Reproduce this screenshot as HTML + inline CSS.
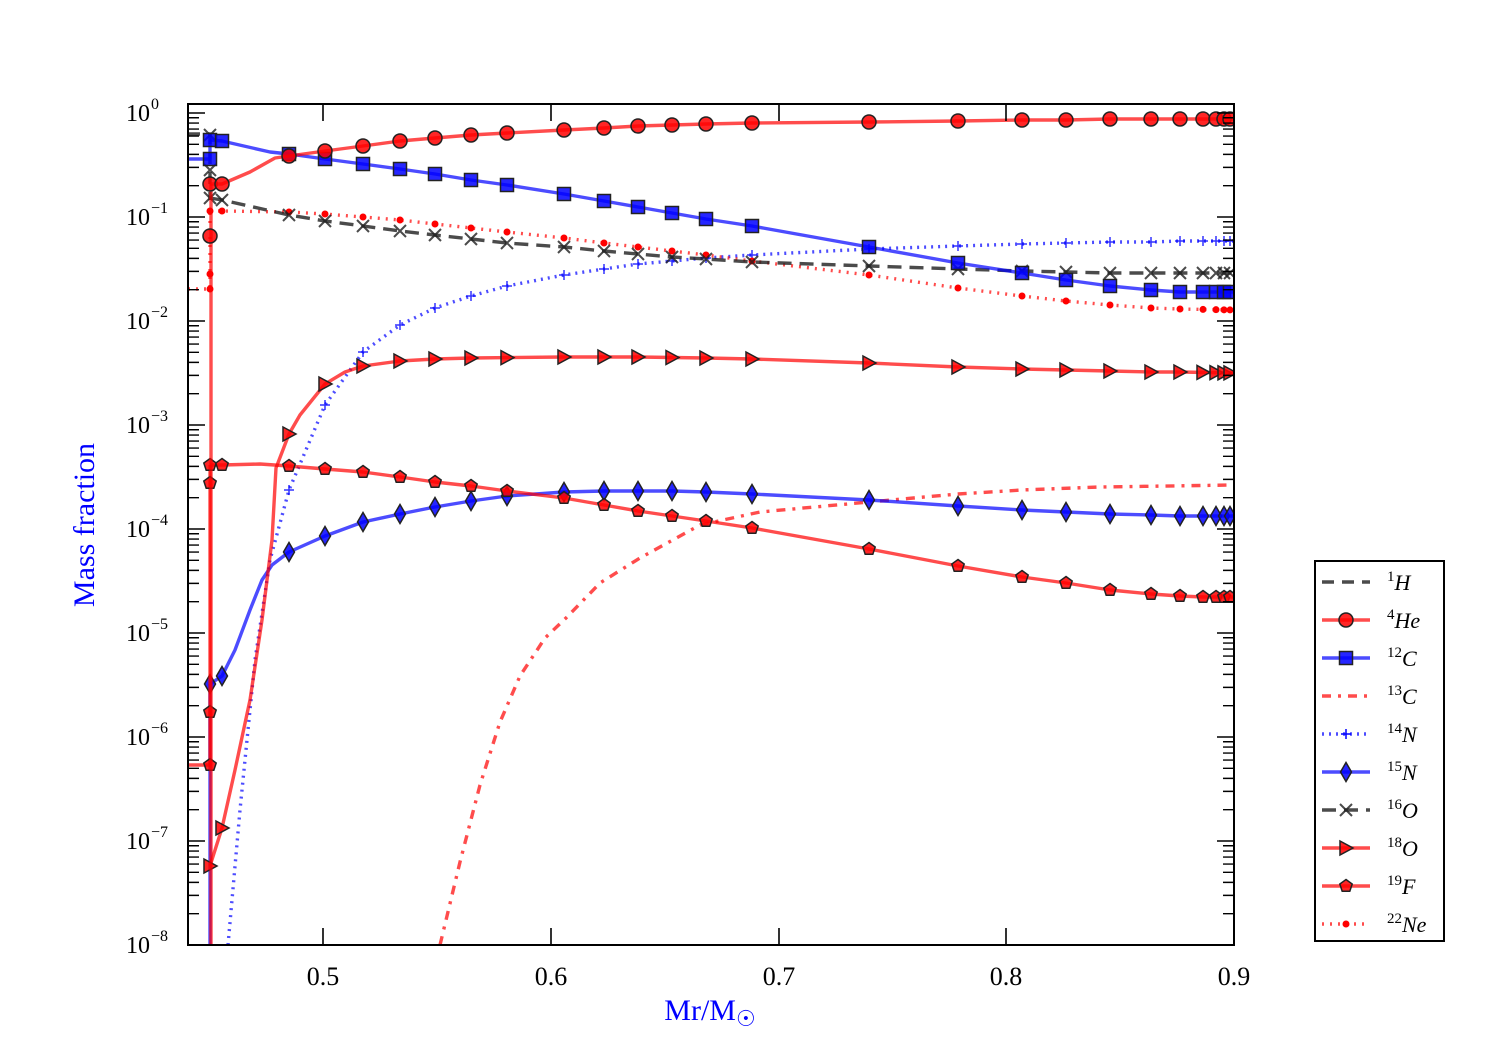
<!DOCTYPE html>
<html><head><meta charset="utf-8"><style>
html,body{margin:0;padding:0;background:#fff;}
svg{display:block;font-family:"Liberation Serif",serif;}
</style></head><body>
<svg id="s" width="1500" height="1050" xmlns="http://www.w3.org/2000/svg"></svg>
<script>
const S=document.getElementById('s');let h='';
const R='rgba(255,0,0,0.7)',B='rgba(0,0,255,0.7)',K='rgba(30,30,30,0.8)';
function pl(pts,col,dash,w){h+=`<polyline points="${pts.map(p=>p.join(',')).join(' ')}" fill="none" stroke="${col}" stroke-width="${w||3.4}" ${dash?`stroke-dasharray="${dash}"`:''} stroke-linejoin="round"/>`;}
function mk(t,x,y,f){
 if(t=='o')h+=`<circle cx="${x}" cy="${y}" r="7" fill="${f}" stroke="#222" stroke-width="1.5"/>`;
 if(t=='s')h+=`<rect x="${x-6.5}" y="${y-6.5}" width="13" height="13" fill="${f}" stroke="#222" stroke-width="1.5"/>`;
 if(t=='d')h+=`<polygon points="${x},${y-9.5} ${x+5.5},${y} ${x},${y+9.5} ${x-5.5},${y}" fill="${f}" stroke="#222" stroke-width="1.5"/>`;
 if(t=='>')h+=`<polygon points="${x-6},${y-7} ${x+7},${y} ${x-6},${y+7}" fill="${f}" stroke="#222" stroke-width="1.5"/>`;
 if(t=='p')h+=`<polygon points="${x},${y-6.5} ${x+6.2},${y-2} ${x+3.8},${y+5.3} ${x-3.8},${y+5.3} ${x-6.2},${y-2}" fill="${f}" stroke="#222" stroke-width="1.5"/>`;
 if(t=='x')h+=`<path d="M${x-6} ${y-6}L${x+6} ${y+6}M${x-6} ${y+6}L${x+6} ${y-6}" stroke="rgba(30,30,30,0.8)" stroke-width="2"/>`;
 if(t=='+')h+=`<path d="M${x-5} ${y}H${x+5}M${x} ${y-5}V${y+5}" stroke="${f}" stroke-width="1.5"/>`;
 if(t=='.')h+=`<circle cx="${x}" cy="${y}" r="3.5" fill="${f}"/>`;
}
const MX=[210,222,289,325,363,400,435,471,507,564,604,638,672,706,752,869,958,1022,1066,1110,1151,1180,1203,1216,1224,1230];
function ser(pts,col,dash,m,f,mx){pl(pts,col,dash);const xs=mx||MX;
 for(const x of xs){let y=null;for(let i=0;i<pts.length-1;i++){const a=pts[i],b=pts[i+1];if(x>=a[0]&&x<=b[0]&&b[0]>a[0]){y=a[1]+(b[1]-a[1])*(x-a[0])/(b[0]-a[0]);}}if(y!==null&&y<=945)mk(m,x,y,f);}}
h+='<defs><clipPath id="c"><rect x="188" y="104" width="1046" height="841"/></clipPath></defs><g clip-path="url(#c)">';
pl([[440,945],[460,862],[480,785],[500,722],[520,676],[545,638],[566,618],[600,583],[640,558],[700,525],[760,512],[869,502],[958,494],[1022,490],[1100,487],[1234,485]],R,'9,7,3,7');
ser([[228,945],[240,810],[255,660],[270,560],[289,490],[325,405],[363,352],[400,325],[435,308],[471,296],[507,286],[564,275],[604,269],[638,264],[672,261],[706,258],[752,255],[869,249],[958,246],[1022,244],[1066,243],[1110,242],[1151,242],[1180,241],[1234,241]],B,'2,5','+','rgba(0,0,255,0.8)');
pl([[188,289],[210,289],[210,211]],R,'2,6');
ser([[210,211],[222,211],[289,212],[325,214],[363,217],[400,220],[435,224],[471,228],[507,232],[564,238],[604,243],[638,247],[672,251],[706,255],[752,261],[869,275],[958,288],[1022,296],[1066,301],[1110,305],[1151,308],[1180,309],[1234,310]],R,'2,6','.','#f00');
mk('.',210,289,'#f00');mk('.',210,274,'#f00');
ser([[210,198],[222,200],[289,215],[325,221],[363,226],[400,231],[435,235],[471,239],[507,243],[564,247],[604,251],[638,254],[672,257],[706,259],[752,262],[869,266],[958,269],[1022,271],[1066,272],[1110,273],[1151,273],[1234,273]],K,'14,8','x');
mk('x',210,170);mk('x',210,135);
pl([[188,134],[210,134],[210,200]],K,'12,8');
pl([[210,945],[210,684]],B);
ser([[210,684],[222,676],[235,650],[250,610],[262,580],[272,565],[289,552],[325,536],[363,522],[400,514],[435,507],[471,501],[507,496],[564,492],[604,491],[638,491],[672,491],[706,492],[752,494],[869,500],[958,506],[1022,510],[1066,512],[1110,514],[1151,515],[1180,516],[1234,516]],B,null,'d','rgba(0,0,255,0.85)');
ser([[210,866],[222,828],[235,770],[250,700],[262,620],[272,540],[276,468],[289,434],[300,415],[325,384],[345,372],[363,366],[400,361],[435,359],[471,358],[564,357],[638,357],[706,358],[752,359],[869,363],[958,367],[1022,369],[1066,370],[1110,371],[1151,372],[1180,372],[1234,373]],R,null,'>','rgba(255,0,0,0.85)');
pl([[188,765],[210,765],[210,465]],R);
ser([[210,465],[222,465],[260,464],[289,466],[325,469],[363,472],[400,477],[435,482],[471,486],[507,491],[564,498],[604,505],[638,511],[672,516],[706,521],[752,528],[869,549],[958,566],[1022,577],[1066,583],[1110,590],[1151,594],[1180,596],[1203,597],[1234,597]],R,null,'p','rgba(255,0,0,0.85)');
mk('p',210,765,'rgba(255,0,0,0.85)');mk('p',210,712,'rgba(255,0,0,0.85)');mk('p',210,483,'rgba(255,0,0,0.85)');
pl([[188,159],[210,159],[210,140]],B);
ser([[210,140],[222,141],[270,152],[289,154],[325,159],[363,164],[400,169],[435,174],[471,180],[507,185],[564,194],[604,201],[638,207],[672,213],[706,219],[752,226],[869,247],[958,263],[1022,273],[1066,280],[1110,286],[1151,290],[1180,292],[1234,292]],B,null,'s','rgba(0,0,255,0.85)');
mk('s',210,159,'rgba(0,0,255,0.85)');
pl([[211,945],[211,184]],R);
ser([[210,184],[222,184],[250,172],[275,158],[289,156],[325,151],[363,146],[400,141],[435,138],[471,135],[507,133],[564,130],[604,128],[638,126],[672,125],[706,124],[752,123],[869,122],[958,121],[1022,120],[1066,120],[1110,119],[1151,119],[1180,119],[1234,119]],R,null,'o','rgba(255,0,0,0.85)');
mk('o',210,236,'rgba(255,0,0,0.85)');
h+='</g>';
h+='<rect x="188" y="104" width="1046" height="841" fill="none" stroke="#000" stroke-width="2"/>';
for(let d=-8;d<=0;d++){const y=945-(d+8)*104;
 h+=`<path d="M188 ${y}h17M1234 ${y}h-17" stroke="#000" stroke-width="1.6"/>`;
 h+=`<text x="150" y="${y+8}" font-size="24" text-anchor="end">10</text><text x="151" y="${y-4}" font-size="16">${d==0?'0':'−'+(-d)}</text>`;
 if(d<0)for(let k=2;k<=9;k++){const yy=y-Math.log10(k)*104;h+=`<path d="M188 ${yy}h11M1234 ${yy}h-11" stroke="#000" stroke-width="1.4"/>`;}
}
for(let k=2;k<=9;k++){const yy=113-Math.log10(k)*104;if(yy>104)h+=`<path d="M188 ${yy}h11M1234 ${yy}h-11" stroke="#000" stroke-width="1.4"/>`;}
[[323,'0.5'],[551,'0.6'],[779,'0.7'],[1006,'0.8'],[1234,'0.9']].forEach(([x,t])=>{
 h+=`<path d="M${x} 945v-17M${x} 104v17" stroke="#000" stroke-width="1.6"/>`;
 h+=`<text x="${x}" y="985" font-size="26" text-anchor="middle">${t}</text>`;});
h+='<text x="710" y="1020" font-size="30" fill="#00f" text-anchor="middle">Mr/M<tspan font-size="22" dy="6" font-family="DejaVu Sans">☉</tspan></text>';
h+='<text transform="translate(94,525) rotate(-90)" font-size="30" fill="#00f" text-anchor="middle">Mass fraction</text>';
h+='<rect x="1315" y="561" width="129" height="380" fill="#fff" stroke="#000" stroke-width="2"/>';
const L=[['1','H',K,'12,8',null],['4','He',R,null,'o'],['12','C',B,null,'s'],['13','C',R,'9,7,3,7',null],['14','N',B,'2,5','+'],['15','N',B,null,'d'],['16','O',K,'14,8','x'],['18','O',R,null,'>'],['19','F',R,null,'p'],['22','Ne',R,'2,6','.']];
L.forEach((e,i)=>{const y=582+i*38;
 h+=`<line x1="1322" y1="${y}" x2="1370" y2="${y}" stroke="${e[2]}" stroke-width="3.4" ${e[3]?`stroke-dasharray="${e[3]}"`:''}/>`;
 if(e[4]){const f=e[2]==B?'rgba(0,0,255,0.85)':'rgba(255,0,0,0.85)';mk(e[4],1346,y,e[4]=='+'?'#00f':(e[4]=='.'?'#f00':f));}
 h+=`<text x="1387" y="${y+8}" font-size="22"><tspan font-size="15" dy="-9">${e[0]}</tspan><tspan font-style="italic" dy="9">${e[1]}</tspan></text>`;});
S.innerHTML=h;
</script>
</body></html>
